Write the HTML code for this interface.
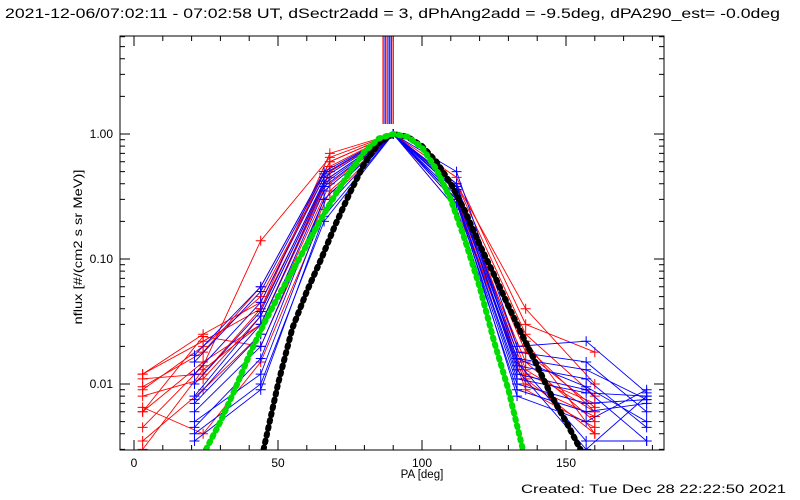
<!DOCTYPE html>
<html><head><meta charset="utf-8"><style>
html,body{margin:0;padding:0;background:#fff;}
svg{display:block;font-family:"Liberation Sans",sans-serif;}
</style></head><body>
<svg id="chart" width="800" height="500" viewBox="0 0 800 500">
<rect width="800" height="500" fill="#fff"/>
<text x="5" y="18" font-size="14" textLength="775" lengthAdjust="spacingAndGlyphs" fill="#000">2021-12-06/07:02:11 - 07:02:58 UT, dSectr2add = 3, dPhAng2add = -9.5deg, dPA290_est= -0.0deg</text>
<g id="ticks"></g>
<g id="marks"></g>
<rect x="120" y="36" width="544" height="414" fill="none" stroke="#000" stroke-width="1"/>
<text x="422" y="478" font-size="11.5" text-anchor="middle">PA [deg]</text>
<text transform="translate(82,247) rotate(-90)" font-size="12" text-anchor="middle" textLength="155" lengthAdjust="spacingAndGlyphs">nflux [#/(cm2 s sr MeV)]</text>
<text x="521" y="493" font-size="12" textLength="265" lengthAdjust="spacingAndGlyphs">Created: Tue Dec 28 22:22:50 2021</text>
</svg>
<script>
const xMajorTicks=[0,50,100,150];
const yMajorTicks=[1,0.1,0.01];
const yTickLabels=["1.00","0.10","0.01"];
const redPA=[3,24,44,68,90,112,136,160];
const redSeries=[
[0.012,0.025,0.045,0.6,1,0.4,0.025,0.008],
[0.011,0.012,0.04,0.5,1,0.35,0.02,0.006],
[0.009,0.02,0.05,0.55,1,0.3,0.015,0.005],
[0.006,0.015,0.03,0.45,1,0.3,0.012,0.007],
[0.008,0.011,0.035,0.5,1,0.45,0.03,0.018],
[0.0045,0.014,0.14,0.65,1,0.4,0.04,0.01],
[0.0035,0.009,0.025,0.4,1,0.3,0.009,0.0045],
[0.006,0.024,0.02,0.35,1,0.25,0.011,0.004],
[0.0095,0.018,0.06,0.6,1,0.35,0.018,0.0065],
[0.0065,0.004,0.015,0.3,1,0.3,0.022,0.004],
[0.012,0.022,0.04,0.7,1,0.38,0.013,0.006],
[0.003,0.013,0.03,0.5,1,0.28,0.01,0.0055]];
const bluePA=[21,44,66,90,112,133,157,178];
const blueSeries=[
[0.017,0.06,0.5,1,0.5,0.02,0.022,0.0085],
[0.012,0.045,0.45,1,0.4,0.016,0.013,0.0075],
[0.008,0.035,0.4,1,0.35,0.014,0.011,0.0045],
[0.007,0.025,0.35,1,0.3,0.012,0.009,0.0035],
[0.006,0.02,0.3,1,0.28,0.01,0.007,0.0075],
[0.005,0.012,0.25,1,0.25,0.009,0.006,0.007],
[0.004,0.01,0.2,1,0.3,0.008,0.005,0.009],
[0.0035,0.009,0.22,1,0.35,0.013,0.003,0.008],
[0.015,0.055,0.48,1,0.38,0.018,0.015,0.006],
[0.0075,0.03,0.38,1,0.32,0.015,0.0035,0.0035],
[0.01,0.038,0.42,1,0.36,0.016,0.0095,0.005],
[0.0045,0.016,0.3,1,0.3,0.011,0.0085,0.008]];
const greenPA=[25,30,35,40,45,50,55,60,65,70,75,80,85,90,95,100,105,110,115,120,125,130,135];
const greenVals=[0.003,0.005,0.009,0.017,0.03,0.05,0.08,0.13,0.21,0.33,0.5,0.72,0.92,1.0,0.95,0.78,0.52,0.3,0.14,0.06,0.022,0.009,0.003];
const blackPA=[45,50,55,60,65,70,75,80,85,90,95,100,105,110,115,120,125,130,135,140,145,150,155];
const blackVals=[0.003,0.01,0.028,0.055,0.1,0.19,0.34,0.58,0.85,1.0,0.95,0.8,0.6,0.4,0.24,0.13,0.075,0.042,0.024,0.014,0.008,0.005,0.003];
const vlinePA=[86.5,87.2,87.9,88.6,89.3,90.0];
const vlineColors=["#f00","#00f","#f00","#00f","#00f","#f00"];

const NS="http://www.w3.org/2000/svg";
const X0=134,XS=2.88,Y1=134,DEC=125;
function xp(v){return X0+v*XS;}
function yp(v){return Y1-Math.log10(v)*DEC;}
function mk(t,a,p){const e=document.createElementNS(NS,t);for(const k in a)e.setAttribute(k,a[k]);p.appendChild(e);return e;}
const T=document.getElementById('ticks'),M=document.getElementById('marks');
const clip=mk('clipPath',{id:'pc'},M);mk('rect',{x:120,y:36,width:544,height:414},clip);
const G=mk('g',{'clip-path':'url(#pc)'},M);
for(let v=-10;v<=200;v+=10){const x=xp(v);if(x<120||x>664)continue;const L=v%50===0?10:5;
 const t1=mk('line',{x1:x,y1:450,x2:x,y2:450-L,stroke:'#000'},T);
 
 
 const t2=mk('line',{x1:x,y1:36,x2:x,y2:36+L,stroke:'#000'},T);
 
 }
xMajorTicks.forEach(v=>{const t=mk('text',{x:xp(v),y:467,'font-size':12,'text-anchor':'middle'},T);t.textContent=v;
 
 });
for(let d=-3;d<=0;d++)for(let m=1;m<=9;m++){const v=m*Math.pow(10,d);const y=yp(v);if(y<36||y>450)continue;const L=m===1?10:5;
 const a=mk('line',{x1:120,y1:y,x2:120+L,y2:y,stroke:'#000'},T);
 
 
 const b=mk('line',{x1:664,y1:y,x2:664-L,y2:y,stroke:'#000'},T);
 
 }
yMajorTicks.forEach((v,i)=>{const t=mk('text',{x:113,y:yp(v)+4,'font-size':12,'text-anchor':'end'},T);t.textContent=yTickLabels[i];
 
 });
function series(pa,vals,col,name){const g=mk('g',{},G);
 
 
 mk('polyline',{points:pa.map((p,i)=>xp(p)+','+yp(vals[i])).join(' '),fill:'none',stroke:col,'stroke-width':0.9},g);
 pa.forEach((p,i)=>{const x=xp(p),y=yp(vals[i]);mk('path',{d:`M${x-5},${y}H${x+5}M${x},${y-5}V${y+5}`,stroke:col,'stroke-width':1},g);});}
redSeries.forEach((s,i)=>series(redPA,s,'#f00','red-series-'+i));
blueSeries.forEach((s,i)=>series(bluePA,s,'#00f','blue-series-'+i));
function dotted(pa,vals,col,name){const p=mk('polyline',{points:pa.map((a,i)=>xp(a)+','+yp(vals[i])).join(' '),fill:'none',stroke:col,'stroke-width':6,'stroke-linecap':'round','stroke-dasharray':'2 5'},G);
 
 }
dotted(blackPA,blackVals,'#000','black-model-curve');
dotted(greenPA,greenVals,'#0d0','green-model-curve');
vlinePA.forEach((v,i)=>{const l=mk('line',{x1:xp(v),y1:36,x2:xp(v),y2:124,stroke:vlineColors[i],'stroke-width':1.3},G);
 
 });
</script>
</body></html>
